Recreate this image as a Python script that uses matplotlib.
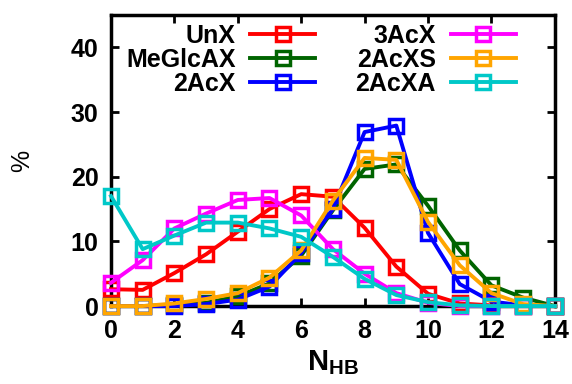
import numpy as np
import matplotlib
matplotlib.use("Agg")
import matplotlib.pyplot as plt

plt.rcParams['font.family'] = ['Liberation Sans', 'DejaVu Sans']
plt.rcParams['font.weight'] = 'bold'
plt.rcParams['mathtext.fontset'] = 'custom'
plt.rcParams['mathtext.rm'] = 'Liberation Sans:bold'
plt.rcParams['mathtext.bf'] = 'Liberation Sans:bold'
plt.rcParams['mathtext.it'] = 'Liberation Sans:bold'

# DATOS
# =====
n_hb = np.arange(0, 15)

unx     = [2.6, 2.5, 5.1, 8.0, 11.5, 15.0, 17.3, 16.9, 12.1, 6.1, 1.9, 0.4, 0.1, 0.0, 0.0]
meglcax = [0.0, 0.0, 0.2, 0.5, 1.5, 3.5, 7.8, 14.8, 21.2, 21.9, 15.5, 8.6, 3.2, 1.3, 0.0]
ac2x    = [0.0, 0.0, 0.0, 0.3, 1.0, 3.0, 8.2, 15.0, 26.9, 27.9, 11.3, 3.4, 0.7, 0.1, 0.0]
ac3x    = [3.6, 7.1, 12.0, 14.3, 16.4, 16.7, 14.0, 8.8, 5.0, 2.0, 0.5, 0.0, 0.0, 0.0, 0.0]
ac2xs   = [0.0, 0.0, 0.4, 1.1, 2.0, 4.4, 8.6, 16.3, 22.9, 22.6, 13.0, 6.3, 2.0, 0.3, 0.0]
ac2xa   = [17.0, 8.8, 10.9, 12.9, 12.9, 12.0, 10.7, 7.6, 4.2, 1.7, 0.6, 0.1, 0.0, 0.0, 0.0]

series = [unx, meglcax, ac2x, ac3x, ac2xs, ac2xa]
etiquetas = ["UnX", "MeGlcAX", "2AcX", "3AcX", "2AcXS", "2AcXA"]
colores = ["#ff0000", "#006400", "#0000ff", "#ff00ff", "#ffa500", "#00c8c8"]

fig = plt.figure(figsize=(5.72, 3.84), dpi=100)
ax = fig.add_axes([0.194, 0.203, 0.776, 0.758])

for y, lab, c in zip(series, etiquetas, colores):
    ax.plot(n_hb, y, color=c, lw=2.8, marker='s', ms=10, mfc='none',
            mew=2.5, label=lab, clip_on=False, zorder=3)

ax.set_xlim(0, 14)
ax.set_ylim(0, 45)
ax.set_xticks(range(0, 15, 2))
ax.set_yticks(range(0, 41, 10))
ax.tick_params(direction='in', length=6, width=2, top=True, right=True,
               labelsize=18, pad=9)
for s in ax.spines.values():
    s.set_linewidth(2.5)
ax.set_xlabel(r'$\mathbf{N_{HB}}$', fontsize=21, labelpad=4)
ax.set_ylabel('%', fontsize=18, labelpad=26)

ax.legend(ncol=2, loc='upper left', bbox_to_anchor=(0.0, 1.02), frameon=False,
          markerfirst=False, fontsize=18, handlelength=2.6, labelspacing=0.0,
          columnspacing=1.6, handletextpad=0.6, borderaxespad=0.2)

plt.savefig("out.png", dpi=100)
